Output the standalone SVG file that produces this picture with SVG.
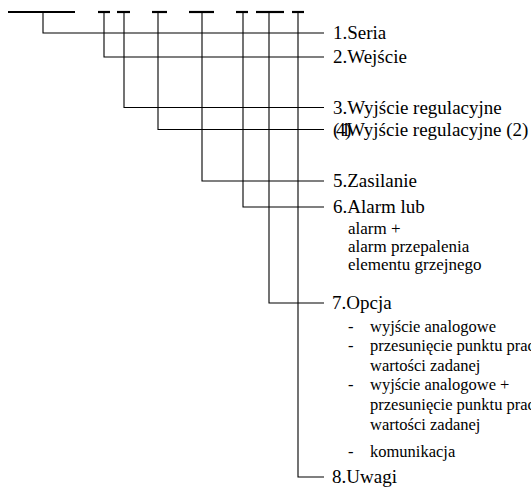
<svg xmlns="http://www.w3.org/2000/svg" width="531" height="487" viewBox="0 0 531 487">
<style>
.bar{stroke:#000;stroke-width:2.2;fill:none}
.ln{stroke:#000;stroke-width:1.1;fill:none}
.m{font-family:"Liberation Serif","Tinos","Times New Roman","DejaVu Serif",serif;font-size:19px;fill:#000}
.s{font-family:"Liberation Serif","Tinos","Times New Roman","DejaVu Serif",serif;font-size:17px;fill:#000}
.o{font-family:"Liberation Serif","Tinos","Times New Roman","DejaVu Serif",serif;font-size:16.5px;fill:#000}
</style>
<rect width="531" height="487" fill="#fff"/>
<g id="code">
<line class="bar" x1="8" y1="12" x2="75" y2="12"/>
<line class="bar" x1="98" y1="12" x2="110" y2="12"/>
<line class="bar" x1="117" y1="12" x2="130" y2="12"/>
<line class="bar" x1="152" y1="12" x2="167" y2="12"/>
<line class="bar" x1="189" y1="12" x2="214" y2="12"/>
<line class="bar" x1="236" y1="12" x2="248" y2="12"/>
<line class="bar" x1="256" y1="12" x2="284" y2="12"/>
<line class="bar" x1="292" y1="12" x2="304" y2="12"/>
</g>
<g id="connectors">
<polyline class="ln" points="43,12 43,33 324,33"/>
<polyline class="ln" points="104,12 104,57 324,57"/>
<polyline class="ln" points="124,12 124,107.5 324,107.5"/>
<polyline class="ln" points="158,12 158,129.5 324,129.5"/>
<polyline class="ln" points="202,12 202,181 324,181"/>
<polyline class="ln" points="243,12 243,207 324,207"/>
<polyline class="ln" points="269,12 269,303 324,303"/>
<polyline class="ln" points="298,12 298,477 324,477"/>
</g>
<g id="n1"><text class="m" x="333" y="39">1.Seria</text></g>
<g id="n2"><text class="m" x="333" y="63">2.Wejście</text></g>
<g id="n3"><text class="m" x="333" y="114">3.Wyjście regulacyjne</text></g>
<g id="n4"><text class="m" x="333 336 341 345 347" y="136">(41)Wyjście regulacyjne (2)</text></g>
<g id="n5"><text class="m" x="333" y="187">5.Zasilanie</text></g>
<g id="n6">
<text class="m" x="333" y="213">6.Alarm lub</text>
<text class="s" x="348" y="234">alarm +</text>
<text class="s" x="348" y="252">alarm przepalenia</text>
<text class="s" x="348" y="270">elementu grzejnego</text>
</g>
<g id="n7">
<text class="m" x="332" y="309">7.Opcja</text>
<text class="o" x="348" y="331.5">-</text><text class="o" x="370" y="331.5">wyjście analogowe</text>
<text class="o" x="348" y="351">-</text><text class="o" x="370" y="351">przesunięcie punktu prac</text>
<text class="o" x="370" y="370.5">wartości zadanej</text>
<text class="o" x="348" y="390">-</text><text class="o" x="370" y="390">wyjście analogowe +</text>
<text class="o" x="370" y="410">przesunięcie punktu prac</text>
<text class="o" x="370" y="429.5">wartości zadanej</text>
<text class="o" x="348" y="457">-</text><text class="o" x="370" y="457">komunikacja</text>
</g>
<g id="n8"><text class="m" x="332" y="482.5">8.Uwagi</text></g>
</svg>
